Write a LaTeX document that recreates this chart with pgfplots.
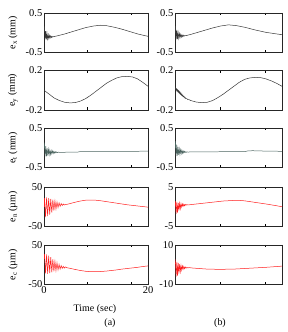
\documentclass[border=0pt]{standalone}
\usepackage{pgfplots}
\pgfplotsset{compat=1.18}
\usepackage{fontspec}
\setmainfont{Liberation Serif}
\definecolor{cdark}{RGB}{55,55,55}
\definecolor{cgreen}{RGB}{75,100,95}
\definecolor{cred}{RGB}{255,30,30}
\pgfplotsset{
  panel/.style={
    scale only axis, width=#1, height=39.5bp,
    xmin=0, xmax=20,
    xtick={0,8.4,16.8,20}, xticklabels={},
    tick align=inside, tick pos=both,
    major tick length=2.5bp,
    tick style={line width=0.4pt, black},
    axis line style={line width=0.7pt, black!85},
    every tick label/.append style={font=\fontsize{10.5}{12}\selectfont, inner sep=1.5bp},
    clip=true,
  },
  panel/.default=104bp,
}
\begin{document}
\begin{tikzpicture}
\useasboundingbox (0,0) rectangle (288bp,332bp);
% ---------------- Row 1: e_x
\begin{axis}[panel, at={(44bp,279.5bp)}, anchor=south west,
  ymin=-0.5, ymax=0.5, ytick={-0.5,0.5}, yticklabels={{-0.5},{0.5}}]
\addplot[cdark, line width=0.5pt] coordinates {
(0,0.02)(0.1,0.16)(0.22,-0.17)(0.34,0.04)(0.46,-0.17)(0.58,-0.02)(0.70,-0.16)(0.82,-0.05)
(0.94,-0.15)(1.06,-0.07)(1.18,-0.13)(1.30,-0.08)(1.42,-0.12)(1.54,-0.09)(1.66,-0.11)
(1.8,-0.10)(2.5,-0.08)(4,-0.03)(6,0.05)(8,0.13)(9.5,0.17)
(10.8,0.19)(12,0.18)(13.5,0.14)(15,0.09)(16.5,0.03)(18,-0.03)(19.3,-0.07)(20,-0.09)};
\end{axis}
\begin{axis}[panel=107bp, at={(175bp,279.5bp)}, anchor=south west,
  ymin=-0.5, ymax=0.5, ytick={-0.5,0.5}, yticklabels={{-0.5},{0.5}}]
\addplot[cdark, line width=0.5pt] coordinates {
(0,0.0)(0.1,0.17)(0.22,-0.17)(0.34,0.07)(0.46,-0.16)(0.58,0.01)(0.70,-0.14)(0.82,-0.02)
(0.94,-0.12)(1.06,-0.04)(1.18,-0.11)(1.30,-0.05)(1.42,-0.10)(1.54,-0.06)(1.66,-0.09)
(1.8,-0.07)(2.0,-0.075)(3,-0.04)(5,0.04)(7,0.12)(8.5,0.17)(10,0.2)(11.5,0.18)
(13,0.14)(15,0.07)(17,0.01)(19,-0.03)(20,-0.05)};
\end{axis}
% ---------------- Row 2: e_y
\begin{axis}[panel, at={(44bp,222bp)}, anchor=south west,
  ymin=-0.2, ymax=0.2, ytick={-0.2,0.2}, yticklabels={{-0.2},{0.2}}]
\addplot[cdark, line width=0.5pt] coordinates {
(0,0.0)(1,-0.04)(2,-0.08)(3,-0.105)(4,-0.122)(5,-0.128)(6,-0.125)(7,-0.11)(8,-0.085)
(9,-0.05)(10,-0.01)(11,0.03)(12,0.07)(13,0.10)(14,0.125)(15,0.138)(16,0.14)(17,0.135)
(18,0.115)(19,0.08)(20,0.04)};
\end{axis}
\begin{axis}[panel=107bp, at={(175bp,222bp)}, anchor=south west,
  ymin=-0.2, ymax=0.2, ytick={-0.2,0.2}, yticklabels={{-0.2},{0.2}}]
\addplot[cdark, line width=0.5pt] coordinates {
(0,0.01)(0.1,0.025)(0.2,0.0)(0.3,0.015)(0.4,-0.01)(0.5,0.005)(0.6,-0.02)(0.7,-0.005)
(0.8,-0.03)(0.9,-0.015)(1.0,-0.04)(1.1,-0.028)(1.2,-0.05)(1.3,-0.04)(1.4,-0.06)(1.5,-0.052)
(1.6,-0.068)(1.7,-0.062)(1.8,-0.077)(1.9,-0.073)(2.0,-0.085)(2.2,-0.085)(2.4,-0.095)
(2.6,-0.095)(3,-0.105)(4,-0.12)(5,-0.125)(6,-0.122)(7,-0.105)(8,-0.075)(9,-0.04)(10,0.0)
(11,0.04)(12,0.08)(13,0.11)(14,0.125)(15,0.13)(16,0.128)(17,0.115)(18,0.095)(19,0.07)(20,0.04)};
\end{axis}
% ---------------- Row 3: e_t
\begin{axis}[panel, at={(44bp,164.5bp)}, anchor=south west,
  ymin=-0.5, ymax=0.5, ytick={-0.5,0.5}, yticklabels={{-0.5},{0.5}}]
\addplot[cgreen, line width=0.5pt] coordinates {
(0,0.0)(0.08,0.13)(0.21,-0.22)(0.34,0.04)(0.47,-0.22)(0.60,-0.01)(0.73,-0.2)(0.86,-0.04)
(0.99,-0.18)(1.12,-0.06)(1.25,-0.17)(1.38,-0.07)(1.51,-0.155)(1.64,-0.08)(1.77,-0.145)
(1.90,-0.09)(2.03,-0.135)(2.16,-0.1)(2.29,-0.13)(2.42,-0.105)(2.6,-0.125)(2.8,-0.11)
(3.0,-0.118)(3.5,-0.115)(6.5,-0.11)(7,-0.095)(10,-0.093)(15,-0.09)(20,-0.088)};
\end{axis}
\begin{axis}[panel=107bp, at={(175bp,164.5bp)}, anchor=south west,
  ymin=-0.5, ymax=0.5, ytick={-0.5,0.5}, yticklabels={{-0.5},{0.5}}]
\addplot[cgreen, line width=0.5pt] coordinates {
(0,0.0)(0.08,0.17)(0.2,-0.21)(0.32,0.08)(0.44,-0.2)(0.56,0.02)(0.68,-0.18)(0.80,-0.03)
(0.92,-0.17)(1.04,-0.05)(1.16,-0.15)(1.28,-0.06)(1.40,-0.14)(1.52,-0.08)(1.64,-0.13)
(1.76,-0.09)(1.88,-0.12)(2.0,-0.10)(2.12,-0.115)(2.24,-0.105)(2.5,-0.11)(2.8,-0.105)
(3,-0.105)(10,-0.1)(13,-0.1)(13.6,-0.08)(14.5,-0.075)(17,-0.085)(20,-0.09)};
\end{axis}
% ---------------- Row 4: e_n
\begin{axis}[panel, at={(44bp,105.5bp)}, anchor=south west,
  ymin=-50, ymax=50, ytick={-50,50}, yticklabels={{-50},{50}}]
\addplot[cred, line width=0.5pt] coordinates {
(0,0)(0.1,22)(0.3,-26)(0.5,24)(0.7,-24)(0.9,22)(1.1,-20)(1.3,20)(1.5,-15)(1.7,18)
(1.9,-10)(2.1,15)(2.3,-6)(2.5,12)(2.7,-2)(2.9,10)(3.1,1)(3.3,8)(3.5,3)(3.7,7)(3.9,4.5)
(4.1,6)(4.4,6)(5,8)(6,11.5)(7,14.5)(8,16.5)(9,17)(10,16.5)
(11,15)(12,13)(13,11)(14,9)(15,7)(16,5)(17,3.5)(18,2)(19,0.5)(20,-1)};
\end{axis}
\begin{axis}[panel=107bp, at={(175bp,105.5bp)}, anchor=south west,
  ymin=-5, ymax=5, ytick={-5,5}, yticklabels={{-5},{5}}]
\addplot[cred, line width=0.5pt] coordinates {
(0,0.3)(0.08,1.4)(0.21,-1.8)(0.34,1.2)(0.47,-1.5)(0.60,1.0)(0.73,-1.0)(0.86,0.9)
(0.99,-0.5)(1.12,0.8)(1.25,-0.1)(1.38,0.7)(1.51,0.1)(1.64,0.65)(1.77,0.25)(1.90,0.6)
(2.05,0.35)(2.2,0.55)(2.4,0.45)(2.7,0.5)(3,0.55)(5,0.85)(7,1.15)(9,1.45)(11,1.6)
(12,1.6)(13,1.5)(15,1.1)(17,0.7)(19,0.25)(20,0.0)};
\end{axis}
% ---------------- Row 5: e_c
\begin{axis}[panel, at={(44bp,47.5bp)}, anchor=south west,
  ymin=-50, ymax=50, ytick={-50,50}, yticklabels={{-50},{50}},
  xticklabels={0,,,20}]
\addplot[cred, line width=0.5pt] coordinates {
(0,15)(0.1,27)(0.3,-22)(0.5,26)(0.7,-23)(0.9,23)(1.1,-21)(1.3,19)(1.5,-19)(1.7,14)
(1.9,-17)(2.1,9)(2.3,-15)(2.5,5)(2.7,-13)(2.9,1)(3.1,-11)(3.3,-2)(3.5,-9.5)(3.7,-4)
(3.9,-8.5)(4.1,-5.5)(4.4,-7.5)(5,-9)(6,-12)(7,-14.5)(8,-16.5)
(9,-17.5)(10,-17.5)(11,-17)(12,-16)(13,-14.5)(14,-13)(15,-11)(16,-9.5)(17,-8)(18,-6.5)
(19,-4.5)(20,-3)};
\end{axis}
\begin{axis}[panel=107bp, at={(175bp,47.5bp)}, anchor=south west,
  ymin=-10, ymax=10, ytick={-10,10}, yticklabels={{-10},{10}}]
\addplot[cred, line width=0.5pt] coordinates {
(0,0.5)(0.08,1.8)(0.21,-6)(0.34,1.5)(0.47,-5.5)(0.60,1.0)(0.73,-4.5)(0.86,0.3)
(0.99,-3.5)(1.12,-0.3)(1.25,-2.8)(1.38,-0.6)(1.51,-2.3)(1.64,-0.9)(1.77,-2.0)(1.90,-1.1)
(2.05,-1.8)(2.2,-1.3)(2.4,-1.6)(2.7,-1.4)(3,-1.6)(4,-1.8)(5,-2.0)(6,-2.2)(7.8,-2.3)
(9,-2.3)(11,-2.2)(13,-1.9)(15,-1.6)(17,-1.3)(19,-0.9)(20,-0.7)};
\end{axis}
\begin{scope}[every node/.style={font=\fontsize{10}{12}\selectfont, rotate=90, anchor=center, inner sep=0pt}]
\node at (13bp,299.25bp) {e\textsubscript{x} (mm)};
\node at (13bp,241.75bp) {e\textsubscript{y} (mm)};
\node at (13bp,184.25bp) {e\textsubscript{t} (mm)};
\node at (13bp,125.25bp) {e\textsubscript{n} (µm)};
\node at (13bp,67.25bp) {e\textsubscript{c} (µm)};
\end{scope}
\node[font=\fontsize{10}{12}\selectfont] at (95bp,23bp) {Time (sec)};
\node[font=\fontsize{10}{12}\selectfont] at (110bp,9bp) {(a)};
\node[font=\fontsize{10}{12}\selectfont] at (220bp,9bp) {(b)};
\end{tikzpicture}
\end{document}
